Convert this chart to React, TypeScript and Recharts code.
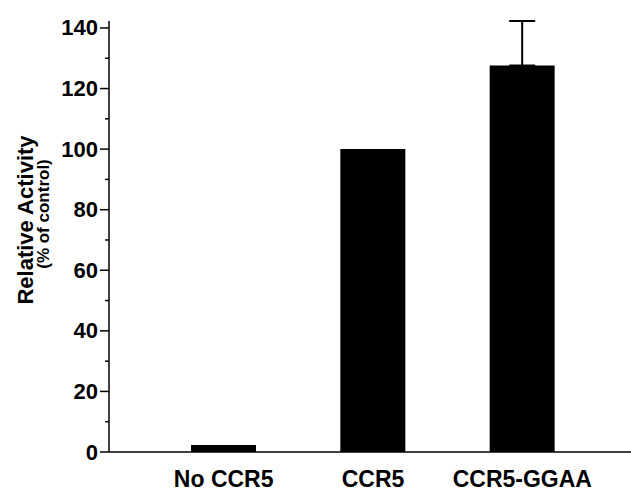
import { Bar, BarChart, ErrorBar, XAxis, YAxis } from "recharts";

const categories = ["No CCR5", "CCR5", "CCR5-GGAA"];
const activity = [2.3, 100, 127.6];
const upperError = [null, null, 14.7];
const yTicks = [0, 10, 20, 30, 40, 50, 60, 70, 80, 90, 100, 110, 120, 130, 140];

const data = categories.map((name, i) => ({
  name,
  value: activity[i],
  err: upperError[i] == null ? null : [0, upperError[i]],
}));

const FONT = "'Liberation Sans', Arial, Helvetica, sans-serif";

function YTick(props: any) {
  const { x, y, payload } = props;
  const major = payload.value % 20 === 0;
  return (
    <g>
      <line x1={x - (major ? 9 : 4)} x2={x} y1={y} y2={y} stroke="#000" strokeWidth={1.5} />
      {major && (
        <text x={x - 11} y={y} textAnchor="end" dominantBaseline="central" fontFamily={FONT} fontWeight="bold" fontSize={22} fill="#000">
          {payload.value}
        </text>
      )}
    </g>
  );
}

function XTick(props: any) {
  const { x, y, payload } = props;
  return (
    <text x={x} y={y + 35} textAnchor="middle" fontFamily={FONT} fontWeight="bold" fontSize={23} fill="#000">
      {payload.value}
    </text>
  );
}

function YTitle() {
  return (
    <g>
      <text transform="translate(33,220) rotate(-90)" textAnchor="middle" fontFamily={FONT} fontWeight="bold" fontSize={22} fill="#000">
        Relative Activity
      </text>
      <text transform="translate(49,214) rotate(-90)" textAnchor="middle" fontFamily={FONT} fontWeight="bold" fontSize={17} fill="#000">
        (% of control)
      </text>
    </g>
  );
}

export default function App() {
  return (
    <div style={{ position: "absolute", left: 0, top: 0, background: "#fff" }}>
      <BarChart width={631} height={491} data={data} margin={{ top: 21, right: 0, left: 0, bottom: 9 }} barCategoryGap={0}>
        <XAxis
          dataKey="name"
          height={30}
          tickLine={false}
          tickSize={0}
          tickMargin={0}
          tick={<XTick />}
          axisLine={{ stroke: "#000", strokeWidth: 1.5 }}
          padding={{ left: 40, right: 34 }}
          interval={0}
        />
        <YAxis
          width={109}
          domain={[0, 140]}
          ticks={yTicks}
          interval={0}
          tickLine={false}
          tickSize={0}
          tickMargin={0}
          tick={<YTick />}
          axisLine={{ stroke: "#000", strokeWidth: 1.5 }}
          label={{ content: () => <YTitle /> }}
        />
        <Bar dataKey="value" fill="#000" barSize={65} isAnimationActive={false}>
          <ErrorBar dataKey="err" width={13} stroke="#000" strokeWidth={2} direction="y" />
        </Bar>
      </BarChart>
    </div>
  );
}
